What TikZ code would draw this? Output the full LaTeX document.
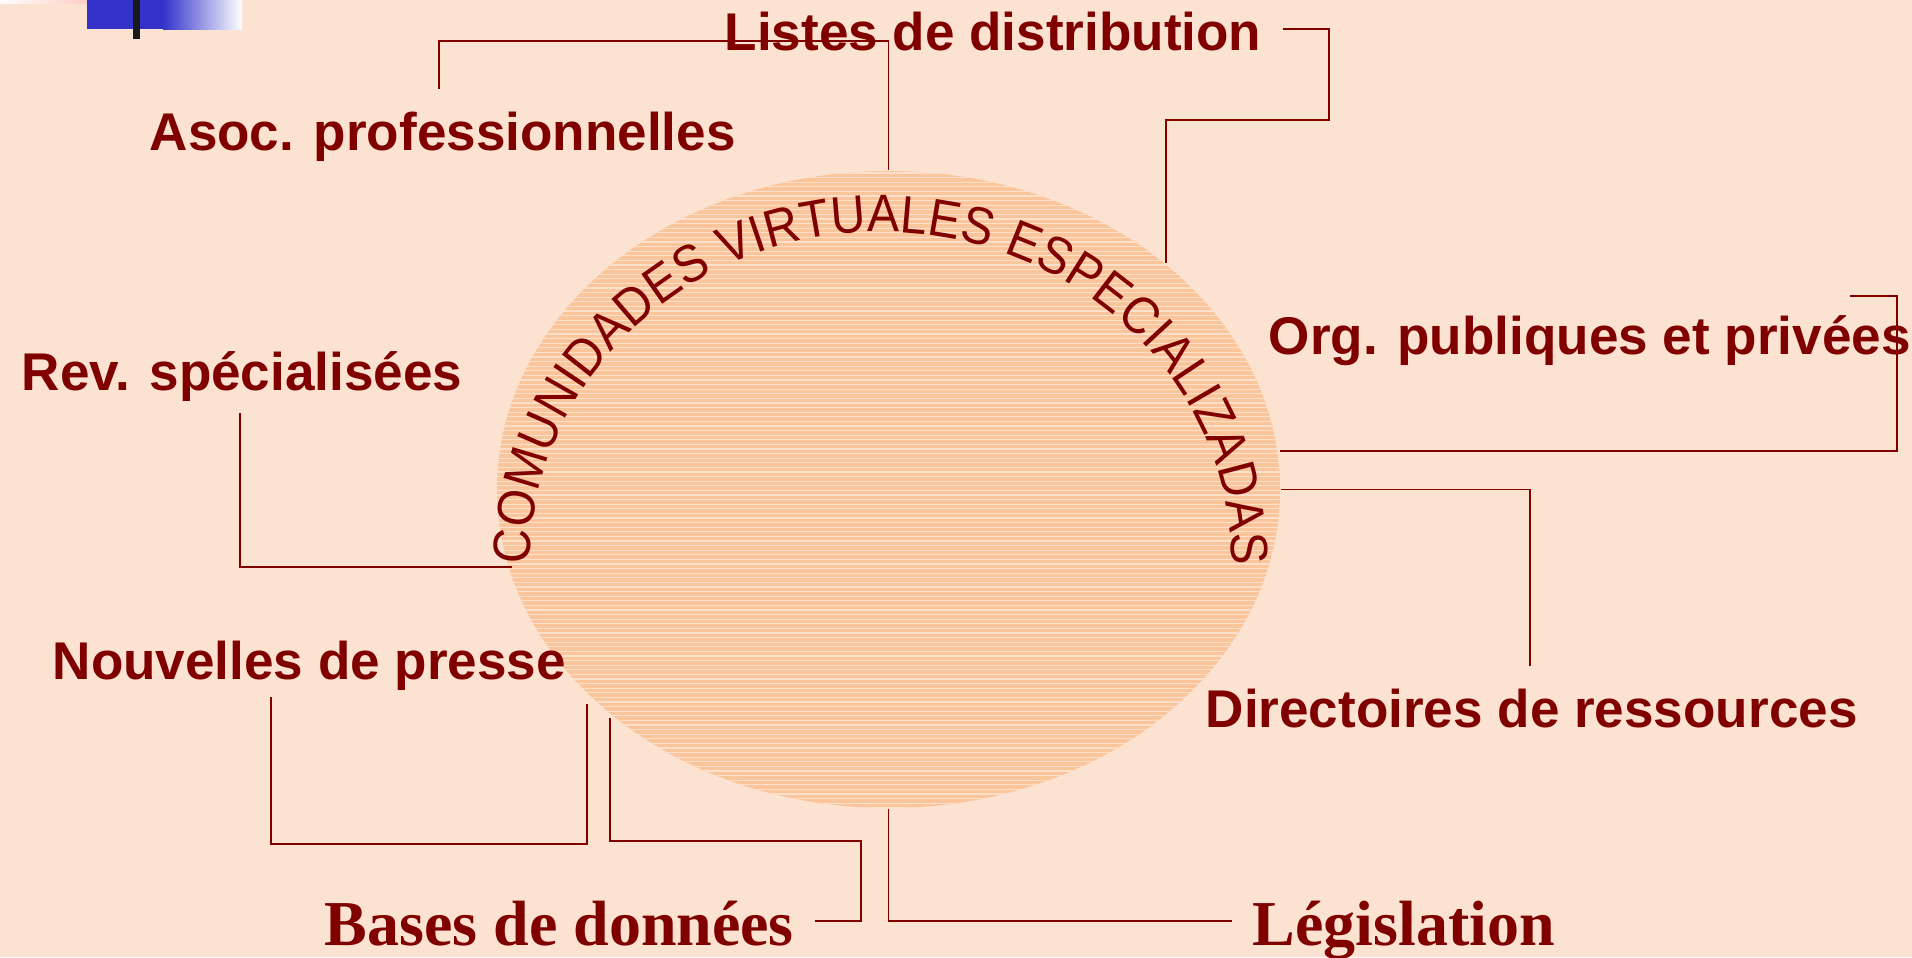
\documentclass[tikz,border=0pt]{standalone}
\usepackage{fontspec}
\setmainfont{Liberation Serif}
\setsansfont{Liberation Sans}
\newfontfamily\arcfont[FakeStretch=0.91]{Liberation Sans}
\usetikzlibrary{shapes.geometric}
\usetikzlibrary{decorations.text}
\usepackage{xcolor}
\definecolor{fond}{HTML}{FCE2D0}
\definecolor{bordeaux}{HTML}{800000}
\definecolor{saumon}{HTML}{FBC59C}
\definecolor{rayure}{HTML}{FDE0CC}
\definecolor{bleu}{HTML}{3333CC}

\begin{document}
\begin{tikzpicture}[x=0.1mm, y=-0.1mm]
        % ================= 样式定义 =================
        \tikzset{
            % 标签:深红粗体无衬线
            etiq/.style={anchor=base west, inner sep=0pt, text=bordeaux, font=\sffamily\bfseries\fontsize{15.1}{18}\selectfont},
            % 底部标签:衬线粗体
            etiqserif/.style={anchor=base west, inner sep=0pt, text=bordeaux, font=\rmfamily\bfseries\fontsize{18.2}{22}\selectfont},
            % 连线样式
            lien/.style={draw=bordeaux, line width=0.5pt}
        }

        % ================= 背景 =================
        \fill[fond] (0,0) rectangle (1912,957);
        \useasboundingbox (0,0) rectangle (1912,957);
        \shade[left color=white, right color=pink!60!fond] (0,0) rectangle (87,3);
        \fill[bleu] (87,0) rectangle (163,29);
        \shade[left color=bleu, right color=white] (163,0) rectangle (242,29);
        \fill[black!90] (133,0) rectangle (140,39);

        % ================= 中心椭圆 (横条纹) =================
        \node[ellipse, fill=saumon, inner sep=0pt, minimum width=78.3mm, minimum height=63.7mm] (cve) at (888.5,489.5) {};
        \begin{scope}
            \clip (888.5,489.5) ellipse [x radius=391.5, y radius=318.5];
            \foreach \y in {173,177.6,...,810}
                \draw[rayure, line width=0.35pt] (497,\y) -- (1280,\y);
        \end{scope}

        % 弧形文字
        \path[decorate, decoration={text along path, text align=fit to path, text color=bordeaux,
            text={|\arcfont\fontsize{15}{18}\selectfont|COMUNIDADES VIRTUALES ESPECIALIZADAS}}]
            (530,565) arc[start angle=180, end angle=360, x radius=351, y radius=333];

        % ================= 连线端点 =================
        \coordinate (a1) at (439,89);
        \coordinate (l1) at (1283,29);
        \coordinate (l2) at (1166,263);
        \coordinate (o1) at (1850,296);
        \coordinate (o2) at (1280,451);
        \coordinate (d2) at (1530,666);
        \coordinate (r1) at (240,413);
        \coordinate (r2) at (512,567);
        \coordinate (n1) at (271,697);
        \coordinate (n2) at (587,704);
        \coordinate (b1) at (610,718);
        \coordinate (b2) at (815,921);
        \coordinate (g1) at (1232,921);

        % ================= 连线 =================
        \draw[lien] (a1) -- ++(0,-48) -| (cve.north);
        \draw[lien] (l1) -- (1329,29) -- (1329,120) -| (l2);
        \draw[lien] (o1) -- (1897,296) |- (o2);
        \draw[lien] (cve.east) -| (d2);
        \draw[lien] (r1) |- (r2);
        \draw[lien] (n1) -- (271,844) -| (n2);
        \draw[lien] (b1) |- (861,841) |- (b2);
        \draw[lien] (cve.south) |- (g1);

        % ================= 标签 =================
        \node[etiq] (listes) at (724,50) {Listes de distribution};
        \node[etiq] (asoc) at (149,150) {Asoc. professionnelles};
        \node[etiq] (rev) at (21,390) {Rev. spécialisées};
        \node[etiq] (nouv) at (52,679) {Nouvelles de presse};
        \node[etiq] (org) at (1268,354) {Org. publiques et privées};
        \node[etiq] (dir) at (1205,727) {Directoires de ressources};
        \node[etiqserif] (bases) at (324,945) {Bases de données};
        \node[etiqserif] (legis) at (1252,945) {Législation};

    \end{tikzpicture}
\end{document}
